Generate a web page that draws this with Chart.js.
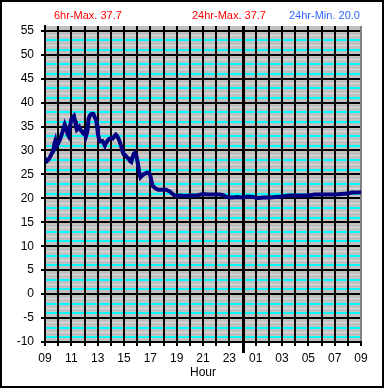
<!DOCTYPE html>
<html>
<head>
<meta charset="utf-8">
<script src="https://cdn.jsdelivr.net/npm/chart.js@4"></script>
<style>
  body { margin: 0; background: #fff; }
  #wrap { position: relative; width: 385px; height: 388px; }
  #frame { position: absolute; left: 0; top: 0; width: 384px; height: 388px;
           box-sizing: border-box; border: 2px solid #000; pointer-events: none; }
</style>
</head>
<body>
<div id="wrap">
  <canvas id="tempChart" width="385" height="388"></canvas>
  <div id="frame"></div>
</div>
<script>
// uren sinds 09:00 en temperatuur
var hours = [0, 0.15, 0.3, 0.5, 0.63, 0.72, 0.78, 0.85, 0.95, 1.05, 1.15, 1.3, 1.4, 1.5, 1.58, 1.65, 1.72, 1.78, 1.85, 1.92,
  2, 2.1, 2.2, 2.28, 2.35, 2.42, 2.5, 2.6, 2.68, 2.78, 2.9, 3, 3.1, 3.18, 3.24, 3.3, 3.4, 3.5, 3.6, 3.68, 3.78, 3.88, 3.95,
  4.02, 4.1, 4.2, 4.35, 4.45, 4.55, 4.62, 4.72, 4.85, 5, 5.15, 5.28, 5.38, 5.48, 5.58, 5.68, 5.78, 5.88, 5.98,
  6.1, 6.22, 6.35, 6.45, 6.55, 6.65, 6.75, 6.84, 6.93, 7.02, 7.1, 7.18, 7.25, 7.35, 7.48, 7.6, 7.75, 7.9,
  8, 8.08, 8.18, 8.3, 8.45, 8.6, 8.8, 9, 9.2, 9.35, 9.5, 9.65, 9.8, 10, 10.3, 10.6, 11, 11.5, 12, 12.4, 12.8, 13.2,
  13.5, 13.8, 14.2, 14.6, 15, 15.4, 15.8, 16.2, 16.6, 17, 17.5, 18, 18.5, 19, 19.5, 20, 20.5, 21, 21.5, 22, 22.5,
  23, 23.3, 23.6, 24];
var temps = [28.3, 27.8, 28.2, 29.3, 29.9, 31.5, 32.0, 30.8, 31.2, 31.8, 32.4, 33.6, 34.5, 35.4, 34.8, 34.2, 33.4, 33.1, 34.3, 35.3,
  36.5, 36.9, 37.2, 36.2, 35.0, 34.3, 34.5, 34.9, 34.4, 34.0, 33.6, 33.9, 32.9, 33.6, 34.4, 36.5, 37.3, 37.6, 37.7, 37.6, 36.9, 36.4, 35.2,
  33.5, 32.4, 31.9, 32.0, 31.6, 31.0, 31.5, 31.9, 32.4, 32.6, 32.5, 33.0, 33.3, 33.0, 32.5, 31.8, 30.9, 29.9, 29.2,
  29.0, 28.6, 28.3, 27.8, 27.6, 28.6, 29.3, 29.5, 29.0, 27.8, 26.5, 25.0, 24.4, 24.7, 25.0, 25.2, 25.4, 25.3,
  24.8, 23.6, 22.6, 22.3, 22.0, 21.8, 21.8, 21.8, 21.8, 21.6, 21.4, 21.0, 20.7, 20.5, 20.6, 20.5, 20.6, 20.6, 20.9, 20.8, 20.8, 20.8,
  20.7, 20.3, 20.2, 20.3, 20.2, 20.4, 20.3, 20.1, 20.2, 20.2, 20.3, 20.4, 20.6, 20.6, 20.6, 20.6, 20.8, 20.8, 20.8, 20.8, 20.9,
  21.0, 21.2, 21.2, 21.3];
var startHour = 9;
var yTicks = [55, 50, 45, 40, 35, 30, 25, 20, 15, 10, 5, 0, -5, -10];
var headerTexts = ["6hr-Max. 37.7", "24hr-Max. 37.7", "24hr-Min. 20.0"];
var headerColors = ["#ff0000", "#ff0000", "#3366ff"];

var points = hours.map(function (h, i) { return { x: h, y: temps[i] }; });

var fontFam = "'Liberation Sans', Arial, sans-serif";

// grijze achtergrond, scheidingslijn en kopteksten
var decor = {
  id: "decor",
  beforeDraw: function (chart) {
    var c = chart.ctx, a = chart.chartArea;
    c.save();
    c.fillStyle = "#ffffff";
    c.fillRect(0, 0, chart.width, chart.height);
    c.fillStyle = "#c0c0c0";
    c.fillRect(a.left, a.top, a.right - a.left, a.bottom - a.top);
    c.restore();
  },
  beforeDatasetsDraw: function (chart) {
    var c = chart.ctx, a = chart.chartArea;
    var x = Math.round(chart.scales.x.getPixelForValue(24 - startHour)) + 0.5;
    c.save();
    c.strokeStyle = "#000";
    c.lineWidth = 3;
    c.beginPath();
    c.moveTo(x, a.top);
    c.lineTo(x, a.bottom + 11);
    c.stroke();
    c.restore();
  },
  afterDraw: function (chart) {
    var c = chart.ctx;
    c.save();
    c.font = "11px " + fontFam;
    c.textBaseline = "alphabetic";
    var xs = [54, 192, 289];
    headerTexts.forEach(function (t, i) {
      c.fillStyle = headerColors[i];
      c.fillText(t, xs[i], 19);
    });
    c.restore();
  }
};

var ctx = document.getElementById("tempChart").getContext("2d");
var chart = new Chart(ctx, {
  type: "line",
  data: {
    datasets: [{
      data: points,
      borderColor: "#000080",
      borderWidth: 4,
      pointRadius: 0,
      tension: 0,
      fill: false
    }]
  },
  plugins: [decor],
  options: {
    responsive: false,
    animation: false,
    events: [],
    layout: { padding: { left: 0, right: 24, top: 26, bottom: 0 } },
    plugins: { legend: { display: false }, tooltip: { enabled: false } },
    scales: {
      x: {
        type: "linear",
        min: 0,
        max: 24,
        afterFit: function (s) { s.height = 46; },
        grid: {
          z: -1,
          color: function (c) { return c.tick.value === 24 ? "#808080" : "#000"; },
          lineWidth: 2,
          tickLength: 4,
          tickColor: "#000",
          tickWidth: 2
        },
        border: { display: true, color: "#000", width: 2 },
        ticks: {
          stepSize: 1,
          autoSkip: false,
          maxRotation: 0,
          padding: 5,
          color: "#000",
          font: { family: fontFam, size: 12 },
          callback: function (v) {
            if (v % 2 !== 0) return "";
            var h = (startHour + v) % 24;
            return (h < 10 ? "0" : "") + h;
          }
        },
        title: {
          display: true,
          text: "Hour",
          color: "#000",
          font: { family: fontFam, size: 12 },
          padding: { top: 0, bottom: 8 }
        }
      },
      y: {
        min: -10,
        max: 56,
        afterFit: function (s) { s.width = 45; },
        grid: {
          z: -2,
          color: function (c) {
            var v = c.tick.value;
            if (v === 56) return "rgba(0,0,0,0)";
            var m = ((v % 5) + 5) % 5;
            if (m === 0) return "#000";
            if (m === 1 || m === 3) return "#00ffff";
            return "#dcdcdc";
          },
          lineWidth: function (c) {
            var m = ((c.tick.value % 5) + 5) % 5;
            return m === 2 || m === 4 ? 1 : 2;
          },
          tickLength: 4,
          tickColor: function (c) { return yTicks.indexOf(c.tick.value) >= 0 ? "#000" : "rgba(0,0,0,0)"; },
          tickWidth: 2
        },
        border: { display: true, color: "#000", width: 2 },
        ticks: {
          stepSize: 1,
          autoSkip: false,
          padding: 7,
          color: "#000",
          font: { family: fontFam, size: 12 },
          callback: function (v) { return yTicks.indexOf(v) >= 0 ? String(v) : ""; }
        }
      }
    }
  }
});
</script>
</body>
</html>
